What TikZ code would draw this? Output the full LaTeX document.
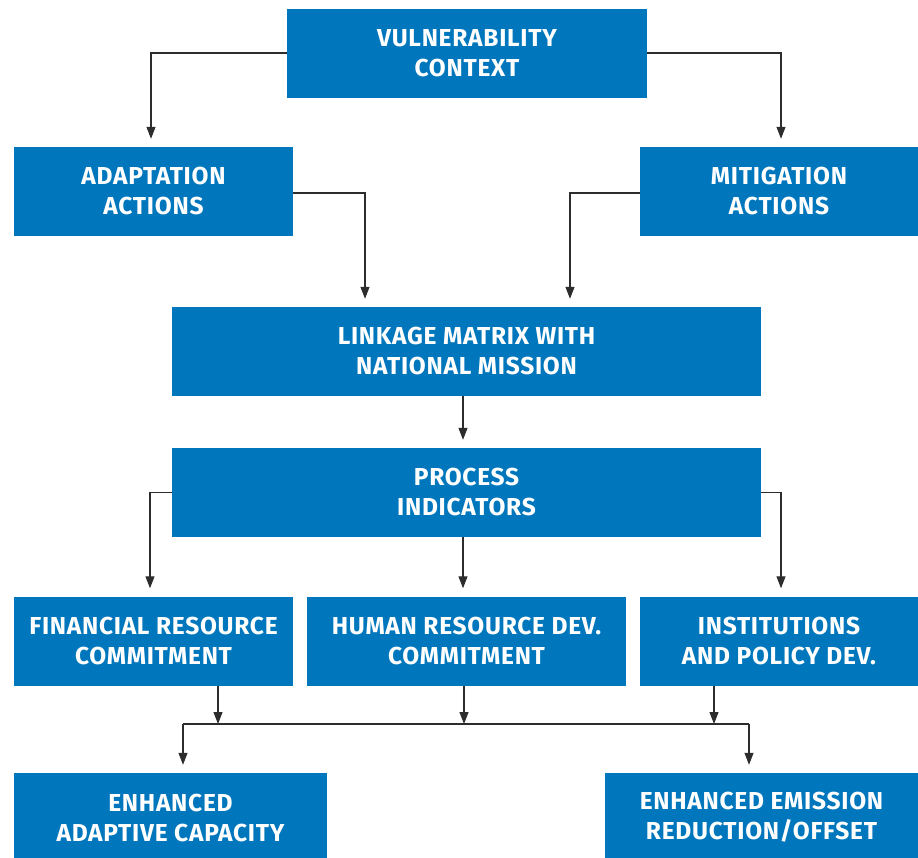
\documentclass[tikz,border=0pt]{standalone}
\usepackage{fontspec}
\setmainfont{Fira Sans}[LetterSpace=3]
\usetikzlibrary{arrows.meta, positioning, calc}
\definecolor{boxblue}{RGB}{0,119,188}
\definecolor{linegray}{RGB}{45,45,45}

\begin{document}
\begin{tikzpicture}[x=1pt, y=-1pt,
    box/.style={fill=boxblue, text=white, align=center, inner sep=0pt,
        minimum height=89pt, font=\fontsize{24.5}{30}\selectfont\bfseries},
    conn/.style={draw=linegray, line width=1.1pt},
    arr/.style={conn, -{Triangle[length=12pt,width=9pt]}, shorten >=8pt}]
    \useasboundingbox (0,0) rectangle (918,857);
    % boxes
    \node [box, minimum width=360pt] (vul) at (467,53) {VULNERABILITY\\CONTEXT};
    \node [box, minimum width=279pt] (ada) at (153.5,191.5) {ADAPTATION\\ACTIONS};
    \node [box, minimum width=278pt] (mit) at (779,191.5) {MITIGATION\\ACTIONS};
    \node [box, minimum width=589pt] (lnk) at (466.5,351.5) {LINKAGE MATRIX WITH\\NATIONAL MISSION};
    \node [box, minimum width=589pt] (proc) at (466.5,492.5) {PROCESS\\INDICATORS};
    \node [box, minimum width=279pt] (fin) at (153.5,641) {FINANCIAL RESOURCE\\COMMITMENT};
    \node [box, minimum width=319pt] (hum) at (466.5,641) {HUMAN RESOURCE DEV.\\COMMITMENT};
    \node [box, minimum width=278pt] (ins) at (779,641) {INSTITUTIONS\\AND POLICY DEV.};
    \node [box, minimum width=313pt] (ead) at (170.5,817.5) {ENHANCED\\ADAPTIVE CAPACITY};
    \node [box, minimum width=313pt] (eem) at (761.5,817.5) {ENHANCED EMISSION\\REDUCTION/OFFSET};
    % bus line
    \coordinate (busL) at (183,724);
    \coordinate (busR) at (749,724);
    % connectors
    \draw [arr] (vul.west) -| (ada.north -| 151,0);
    \draw [arr] (vul.east) -| (mit.north -| 781,0);
    \draw [arr] ([yshift=-1.5pt]ada.east) -| (lnk.north -| 365,0);
    \draw [arr] ([yshift=-1.5pt]mit.west) -| (lnk.north -| 570,0);
    \draw [arr] ([xshift=-3.5pt]lnk.south) -- ([xshift=-3.5pt]proc.north);
    \draw [arr] (proc.west) -| (fin.north -| 150,0);
    \draw [arr] ([xshift=-3.5pt]proc.south) -- ([xshift=-3.5pt]hum.north);
    \draw [arr] (proc.east) -| (ins.north -| 781,0);
    \draw [conn] (busL) -- (busR);
    \draw [arr, shorten >=0pt] (fin.south -| 218,0) -- (busL -| 218,0);
    \draw [arr, shorten >=0pt] (hum.south -| 464,0) -- (busL -| 464,0);
    \draw [arr, shorten >=0pt] (ins.south -| 714,0) -- (busL -| 714,0);
    \draw [arr] (busL) -- (ead.north -| busL);
    \draw [arr] (busR) -- (eem.north -| busR);
\end{tikzpicture}
\end{document}
